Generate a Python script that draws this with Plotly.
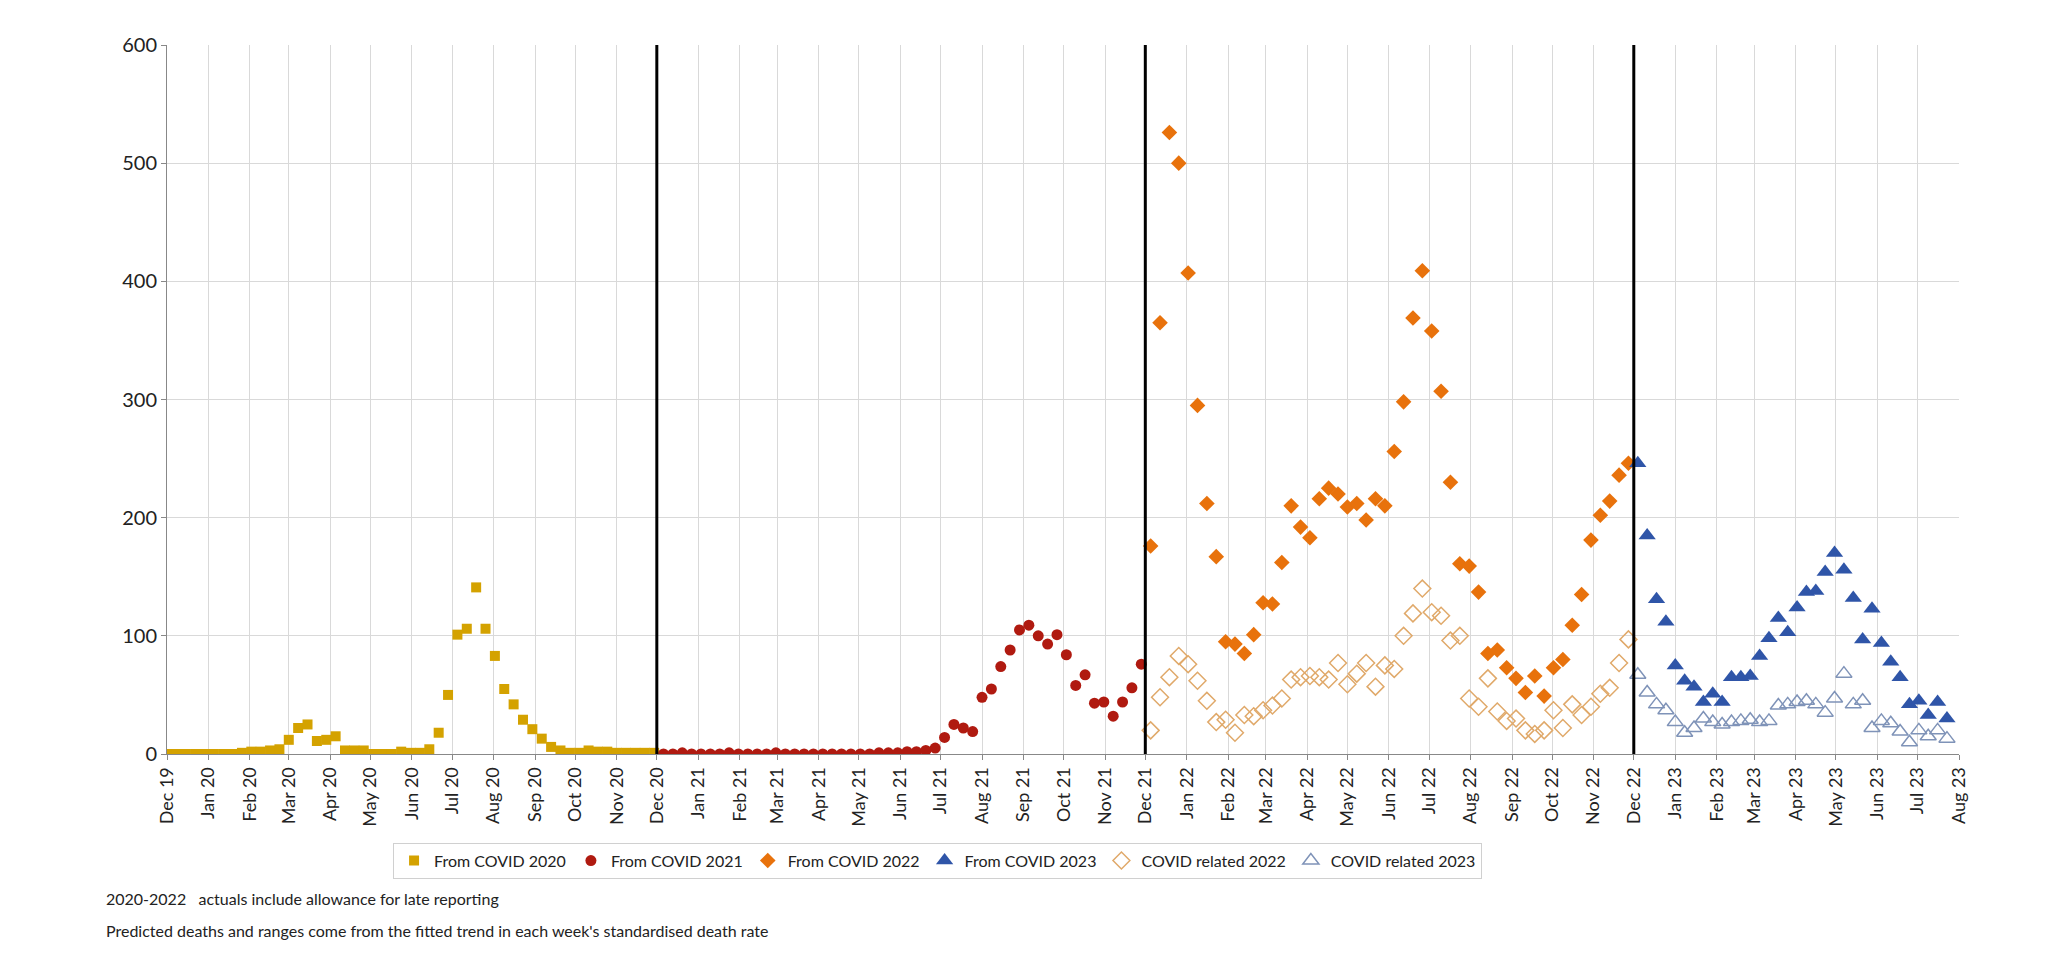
import plotly.graph_objects as go
import pandas as pd

start = pd.Timestamp("2019-12-01")
def wk(i0, n):
    return [start + pd.Timedelta(weeks=i0 + k) for k in range(n)]

covid2020 = [0,0,0,0,0,0,0,0,1,2,2,3,4,12,22,25,11,12,15,3,3,3,0,0,0,2,1,1,4,18,50,101,106,141,106,83,55,42,29,21,13,6,3,1,1,3,2,2,1,1,1,1,1]
covid2021 = [0,0,1,0,0,0,0,1,0,0,0,0,1,0,0,0,0,0,0,0,0,0,0,1,1,1,2,2,3,
             5,14,25,22,19,48,55,74,88,105,109,100,93,101,84,58,67,43,44,32,44,56,76]
covid2022 = [176,365,526,500,407,295,212,167,95,93,85,101,128,127,162,210,192,183,216,225,
             220,209,212,198,216,210,256,298,369,409,358,307,230,161,159,137,85,88,73,64,
             52,66,49,73,80,109,135,181,202,214,236,246]
related2022 = [20,48,65,83,76,62,45,27,29,18,33,32,37,41,47,63,65,66,65,63,
               77,59,68,77,57,75,72,100,119,140,120,117,96,100,47,40,64,36,28,30,
               20,17,20,37,22,42,33,40,51,56,77,97]
covid2023 = [246,185,131,112,75,62,57,44,51,44,65,65,66,83,98,115,103,124,137,138,
             154,170,156,132,97,123,94,78,65,42,45,33,44,30]
related2023 = [67,52,42,37,27,18,22,30,27,25,27,28,29,27,28,41,42,44,45,42,
               35,47,68,42,45,22,28,26,19,10,20,15,20,13]

month_ticks = pd.date_range("2019-12-01", "2023-08-01", freq="MS")
tick_text = [d.strftime("%b %y") for d in month_ticks]
dividers = ["2020-12-01", "2021-12-01", "2022-12-01"]

fig = go.Figure()
fig.add_trace(go.Scatter(x=wk(0, len(covid2020)), y=covid2020, mode="markers", name="From COVID 2020",
                         marker=dict(symbol="square", size=10, color="#D4A200")))
fig.add_trace(go.Scatter(x=wk(53, len(covid2021)), y=covid2021, mode="markers", name="From COVID 2021",
                         marker=dict(symbol="circle", size=11, color="#B01A10")))
fig.add_trace(go.Scatter(x=wk(105, len(covid2022)), y=covid2022, mode="markers", name="From COVID 2022",
                         marker=dict(symbol="diamond", size=12, color="#E8720C")))
fig.add_trace(go.Scatter(x=wk(157, len(covid2023)), y=covid2023, mode="markers", name="From COVID 2023",
                         marker=dict(symbol="triangle-up", size=15, color="#2F55A8")))
fig.add_trace(go.Scatter(x=wk(105, len(related2022)), y=related2022, mode="markers", name="COVID related 2022",
                         marker=dict(symbol="diamond-open", size=13, color="#E0A96A", line=dict(width=1.5))))
fig.add_trace(go.Scatter(x=wk(157, len(related2023)), y=related2023, mode="markers", name="COVID related 2023",
                         marker=dict(symbol="triangle-up-open", size=14, color="#7F93B8", line=dict(width=1.5))))

for d in dividers:
    fig.add_shape(type="line", x0=d, x1=d, y0=0, y1=600, xref="x", yref="y",
                  line=dict(color="black", width=3))

fig.update_layout(
    width=2048, height=962, plot_bgcolor="white", paper_bgcolor="white",
    margin=dict(l=159, r=97, t=37, b=216),
    font=dict(family="Lato, Liberation Sans, sans-serif", size=16, color="#222"),
    showlegend=True,
    legend=dict(orientation="h", x=0.43, xanchor="center", y=-0.125, yanchor="top",
                bordercolor="#D0D0D0", borderwidth=1, font=dict(size=16)),
    xaxis=dict(type="date", range=["2019-12-01", "2023-08-01"], tickvals=month_ticks, ticktext=tick_text,
               tickangle=-90, showgrid=True, gridcolor="#D9D9D9", linecolor="#888", ticks="outside",
               ticklen=5, tickcolor="#888", zeroline=False, tickfont=dict(size=18)),
    yaxis=dict(range=[0, 600], dtick=100, showgrid=True, gridcolor="#D9D9D9", linecolor="#888",
               showline=True, ticks="outside", tickcolor="#888", ticklen=5, zeroline=False,
               tickfont=dict(size=20)),
    annotations=[
        dict(text="2020-2022   actuals include allowance for late reporting", x=-0.035, y=-0.22,
             xref="paper", yref="paper", xanchor="left", showarrow=False, font=dict(size=16)),
        dict(text="Predicted deaths and ranges come from the fitted trend in each week's standardised death rate",
             x=-0.035, y=-0.265, xref="paper", yref="paper", xanchor="left", showarrow=False, font=dict(size=16)),
    ],
)
fig.write_html("out.html")
